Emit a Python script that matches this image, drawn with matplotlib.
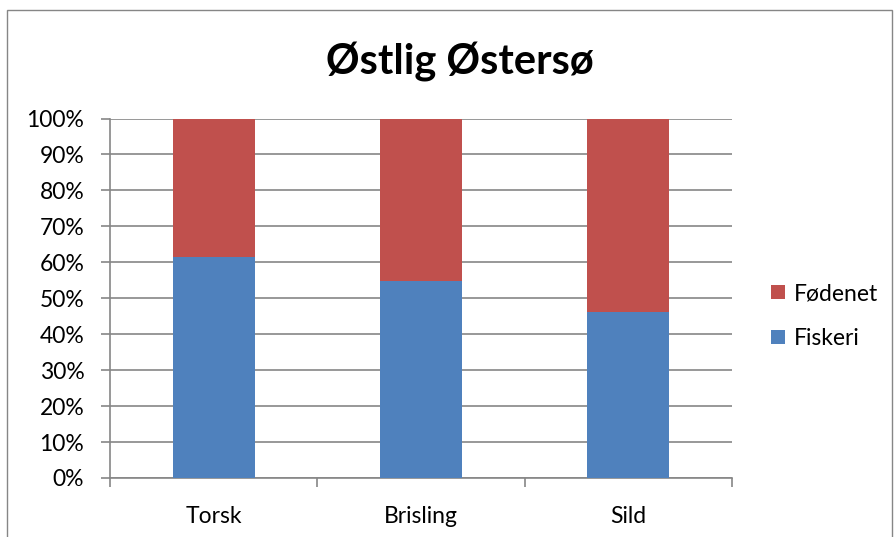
import matplotlib.pyplot as plt
import numpy as np
from matplotlib.patches import Rectangle

categories = ['Torsk', 'Brisling', 'Sild']
fiskeri = [61.4, 54.7, 46.1]
fodenet = [100 - v for v in fiskeri]

plt.rcParams['font.family'] = ['Lato', 'DejaVu Sans']

fig = plt.figure(figsize=(8.96, 5.37), dpi=100)
ax = fig.add_axes([0.1228, 0.1099, 0.694, 0.6694])

x = np.arange(len(categories))
b1 = ax.bar(x, fiskeri, width=0.396, color='#4F81BD', label='Fiskeri', zorder=3)
b2 = ax.bar(x, fodenet, width=0.396, bottom=fiskeri, color='#C0504D', label='Fødenet', zorder=3)

ax.set_xlim(-0.5, 2.5)
ax.set_ylim(0, 100)
ax.set_yticks(np.arange(0, 101, 10))
ax.set_yticklabels([f'{v}%' for v in range(0, 101, 10)], fontsize=16.5)
ax.set_xticks(x)
ax.set_xticklabels(categories, fontsize=16.5)
ax.tick_params(axis='x', which='major', length=0, pad=20)
ax.set_xticks([-0.5, 0.5, 1.5, 2.5], minor=True)
ax.tick_params(axis='x', which='minor', length=6.5, color='#868686', width=1.2)
ax.tick_params(axis='y', length=6.5, color='#868686', width=1.2, pad=12)
ax.grid(axis='y', color='#868686', linewidth=1.2, zorder=0)

for s in ['top', 'right']:
    ax.spines[s].set_visible(False)
for s in ['left', 'bottom']:
    ax.spines[s].set_color('#868686')
    ax.spines[s].set_linewidth(1.2)

fig.text(0.513, 0.885, 'Østlig Østersø', ha='center', va='center', fontsize=30, fontweight='bold')

ax.legend([b2, b1], ['Fødenet', 'Fiskeri'], loc='center left', bbox_to_anchor=(1.03, 0.45),
          frameon=False, fontsize=16.5, handlelength=0.6, handleheight=0.6, labelspacing=1.05,
          handletextpad=0.4)

fig.patches.append(Rectangle((0.008, -0.1), 0.988, 1.082, transform=fig.transFigure,
                             fill=False, edgecolor='#868686', linewidth=1))

fig.savefig('out.png', dpi=100)
